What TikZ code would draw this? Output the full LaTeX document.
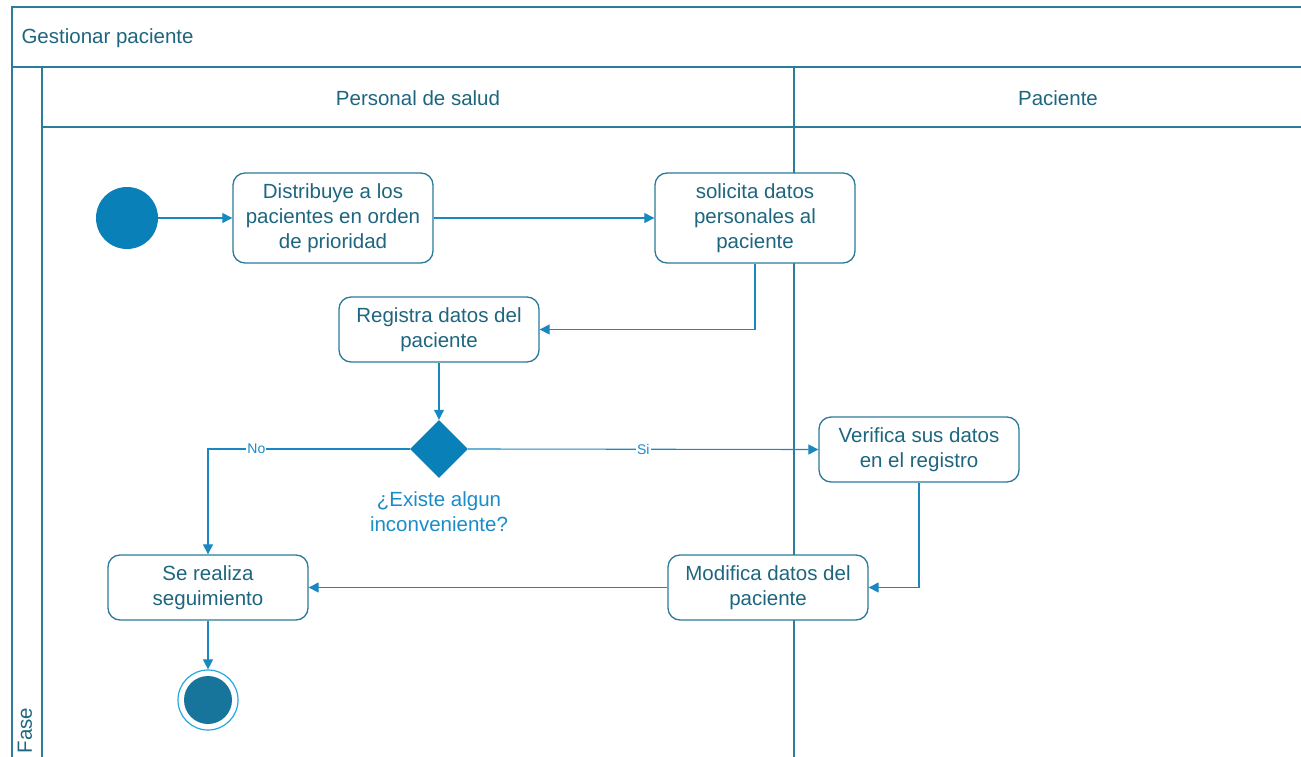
\documentclass[tikz,border=0pt]{standalone}
\usepackage{fontspec}
\setmainfont{Liberation Sans}
\usetikzlibrary{arrows.meta,shapes.geometric}
\definecolor{framec}{HTML}{2C7C9C}
\definecolor{txtc}{HTML}{1E6680}
\definecolor{boxc}{HTML}{2B7A99}
\definecolor{linkc}{HTML}{1A88C0}
\definecolor{startc}{HTML}{0A80B8}
\definecolor{endc}{HTML}{17749A}
\definecolor{ringc}{HTML}{22A8E0}
\definecolor{labc}{HTML}{1A8CC8}
\newcommand{\boxtext}[1]{\raisebox{-2pt}{\begin{tabular}{@{}c@{}}#1\end{tabular}}}
\begin{document}
\begin{tikzpicture}[x=1pt,y=-1pt,
  every node/.style={font=\fontsize{20.5}{25}\selectfont, text=txtc},
  frameline/.style={draw=framec, line width=1.5pt},
  action/.style={draw=boxc, line width=1.3pt, rounded corners=12pt, fill=white,
    minimum width=200pt, align=center, inner sep=0pt},
  link/.style={draw=linkc, line width=1.1pt, -{Triangle[length=10pt,width=10pt]}},
  guard/.style={font=\fontsize{14}{16}\selectfont, text=labc, fill=white, inner sep=1pt}
]
\useasboundingbox (0,0) rectangle (1301,757);
\begin{scope}
\clip (0,0) rectangle (1301,757);
% swimlane frame
\draw[frameline] (12,780) -- (12,7) -- (1330,7);
\draw[frameline] (12,67) -- (1330,67);
\draw[frameline] (42,67) -- (42,780);
\draw[frameline] (42,127) -- (1330,127);
\draw[frameline] (794,67) -- (794,780);
\end{scope}
\node[anchor=west] (title) at (18,38) {Gestionar paciente};
\node (lane1) at (418,98) {Personal de salud};
\node (lane2) at (1058,98) {Paciente};
\node[rotate=90, anchor=west] (fase) at (25,757) {Fase};

% activity nodes
\node[circle, fill=startc, minimum size=62pt, inner sep=0pt] (start) at (127,218) {};
\node[action, minimum height=90pt] (distrib) at (333,218) {\boxtext{Distribuye a los\\pacientes en orden\\de prioridad}};
\node[action, minimum height=90pt] (solicita) at (755,218) {\boxtext{solicita datos\\personales al\\paciente}};
\node[action, minimum height=65pt] (registra) at (439,329.5) {\boxtext{Registra datos del\\paciente}};
\node[diamond, fill=startc, minimum size=58pt, inner sep=0pt] (dec) at (439,449) {};
\node[text=labc, align=center] (declab) at (439,512) {¿Existe algun\\inconveniente?};
\node[action, minimum height=65pt] (verifica) at (919,449.5) {\boxtext{Verifica sus datos\\en el registro}};
\node[action, minimum height=65pt] (modifica) at (768,587.5) {\boxtext{Modifica datos del\\paciente}};
\node[action, minimum height=65pt] (seguim) at (208,587.5) {\boxtext{Se realiza\\seguimiento}};
\node[circle, draw=ringc, line width=1.2pt, minimum size=60pt, inner sep=0pt] (fin) at (208,700) {};
\node[circle, fill=endc, minimum size=48pt, inner sep=0pt] (finin) at (208,700) {};

% control flow
\draw[link] (start) -- (distrib);
\draw[link] (distrib) -- (solicita);
\draw[link] (solicita.south) |- (registra.east);
\draw[link] (registra) -- (dec);
\draw[link] (dec.east) -- node[guard, pos=0.5] {Si} (verifica.west);
\draw[link] (dec.west) -- node[guard, pos=0.76] {No} (208,449) -- (seguim.north);
\draw[link] (verifica.south) |- (modifica.east);
\draw[link] (modifica) -- (seguim);
\draw[link] (seguim) -- (fin);
\end{tikzpicture}
\end{document}
